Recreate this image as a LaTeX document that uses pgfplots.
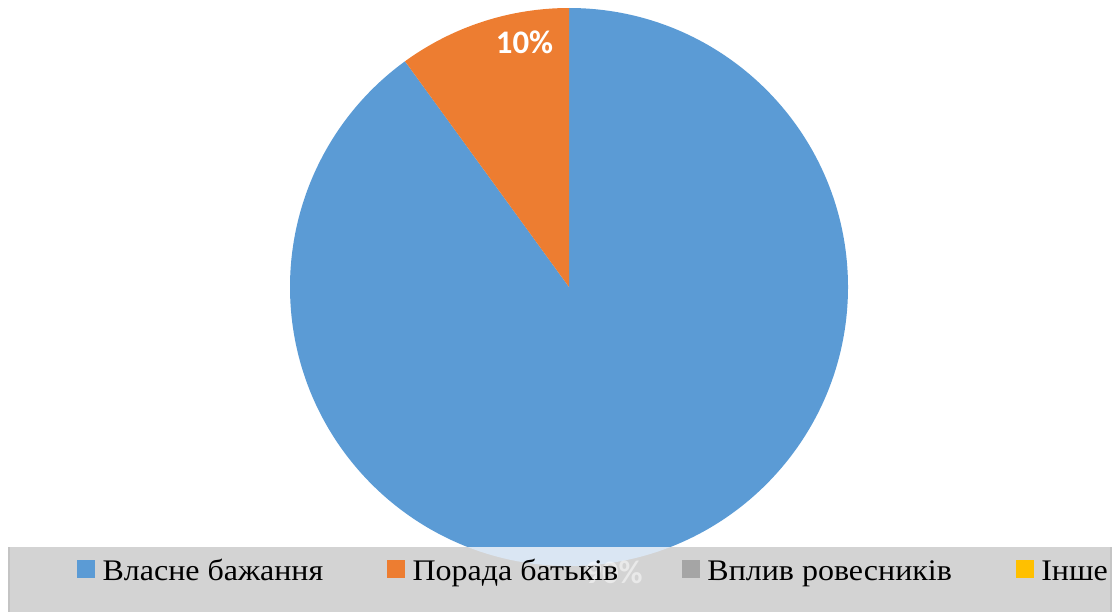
\documentclass[border=0pt]{standalone}
\usepackage{pgfplots}
\pgfplotsset{compat=1.18}
\usepackage{fontspec}
\setmainfont{Liberation Serif}
\newfontfamily\legfont[FakeStretch=1.07]{Liberation Serif}
\newfontfamily\lblfont{Carlito}

\definecolor{pieblue}{HTML}{5B9BD5}
\definecolor{pieorange}{HTML}{ED7D31}
\definecolor{piegray}{HTML}{A5A5A5}
\definecolor{pieyellow}{HTML}{FFC000}
\definecolor{legbg}{HTML}{D3D3D3}
\definecolor{legedge}{HTML}{C4C4C4}
\definecolor{pielight}{HTML}{DAE6F3}

% shares, per cent
\def\valA{90}% Власне бажання
\def\valB{10}% Порада батьків

\newcommand\sqimg[1]{\addlegendimage{legend image code/.code={\fill[#1] (0bp,3bp) rectangle (17bp,20bp);}}}

\begin{document}
\begin{tikzpicture}
\useasboundingbox (0,0) rectangle (1119bp,612bp);
\pgfmathsetmacro\endA{90-3.6*\valA}
\pgfmathsetmacro\endB{\endA-3.6*\valB}
\begin{axis}[
  at={(0,0)}, anchor=south west,
  scale only axis, width=1119bp, height=612bp,
  xmin=0, xmax=1119, ymin=0, ymax=612, y dir=reverse,
  hide axis,
  legend columns=4,
  legend style={at={(axis cs:77,556.5)}, anchor=north west,
    draw=none, fill=none, inner sep=0pt,
    font=\legfont\fontsize{30}{30}\selectfont,
    cells={anchor=base west, inner sep=0pt},
    /tikz/every odd column/.append style={column sep=6bp},
    /tikz/every even column/.append style={column sep=62bp}},
]
% pie, clockwise from 12 o'clock
\fill[pieblue] (axis cs:569,287) -- ++(90:279bp) arc[start angle=90, end angle=\endA, radius=279bp] -- cycle;
\fill[pieorange] (axis cs:569,287) -- ++(\endA:279bp) arc[start angle=\endA, end angle=\endB, radius=279bp] -- cycle;
\node[text=white, font=\lblfont\bfseries\fontsize{33}{33}\selectfont] at (axis cs:524.5,42) {10\%};

% legend box over the bottom of the pie
\fill[legbg] (axis cs:8,547) rectangle (axis cs:1112,620);
\begin{scope}
\clip (axis cs:8,547) rectangle (axis cs:1112,620);
\fill[pielight] (axis cs:569,287) circle[radius=279bp];
\end{scope}
\node[text=white, opacity=0.5, font=\lblfont\bfseries\fontsize{33}{33}\selectfont] at (axis cs:614,572) {90\%};
\draw[legedge, line width=1.5bp] (axis cs:9,547) -- (axis cs:9,620);
\draw[legedge, line width=1.5bp] (axis cs:1111,547) -- (axis cs:1111,620);

\sqimg{pieblue}\addlegendentry{Власне бажання}
\sqimg{pieorange}\addlegendentry{Порада батьків}
\sqimg{piegray}\addlegendentry{Вплив ровесників}
\sqimg{pieyellow}\addlegendentry{Інше}
\end{axis}
\end{tikzpicture}
\end{document}
